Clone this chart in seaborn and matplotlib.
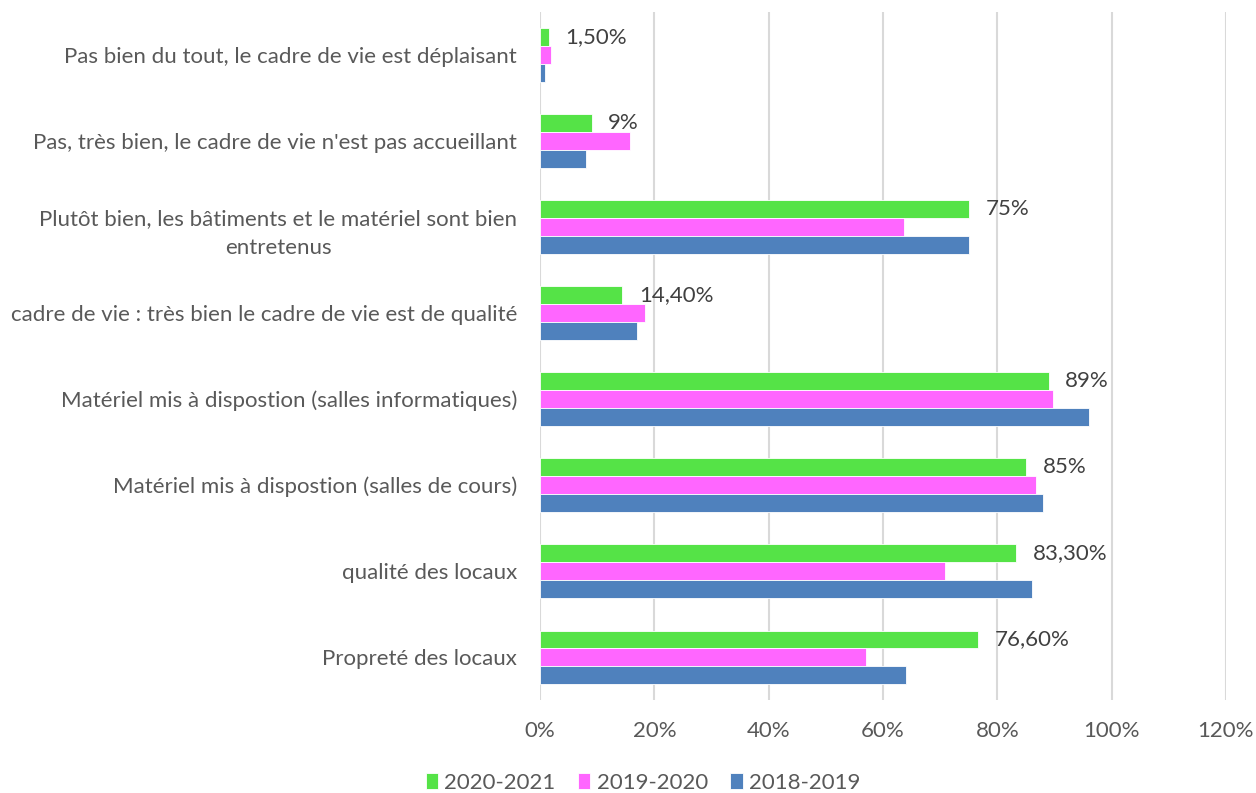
import pandas as pd
import matplotlib.pyplot as plt
import seaborn as sns
from matplotlib.ticker import FuncFormatter

# Data (percent)
categories = [
    "Pas bien du tout, le cadre de vie est déplaisant",
    "Pas, très bien, le cadre de vie n'est pas accueillant",
    "Plutôt bien, les bâtiments et le matériel sont bien\nentretenus",
    "cadre de vie : très bien le cadre de vie est de qualité",
    "Matériel mis à dispostion (salles informatiques)",
    "Matériel mis à dispostion (salles de cours)",
    "qualité des locaux",
    "Propreté des locaux",
]
years = ["2020-2021", "2019-2020", "2018-2019"]
values_2020_2021 = [1.5, 9, 75, 14.4, 89, 85, 83.3, 76.6]
values_2019_2020 = [1.9, 15.7, 63.7, 18.4, 89.7, 86.8, 70.9, 57]
values_2018_2019 = [0.9, 8, 75, 17, 96, 88, 86, 64]
green_labels = ["1,50%", "9%", "75%", "14,40%", "89%", "85%", "83,30%", "76,60%"]

colors = ["#55E347", "#FF66FF", "#4F81BD"]
text_color = "#595959"

df = pd.DataFrame({
    "categorie": categories * 3,
    "annee": [y for y in years for _ in categories],
    "valeur": values_2020_2021 + values_2019_2020 + values_2018_2019,
})

sns.set_style("white")
plt.rcParams["font.family"] = ["Lato", "DejaVu Sans"]

fig = plt.figure(figsize=(12.56, 7.93), dpi=100)
ax = fig.add_axes([0.43, 0.117, 0.546, 0.868])

sns.barplot(data=df, y="categorie", x="valeur", hue="annee", hue_order=years,
            order=categories, palette=colors, orient="h", width=0.62,
            edgecolor="white", linewidth=0.6, saturation=1, ax=ax)

ax.bar_label(ax.containers[0], labels=green_labels, padding=12,
             fontsize=16, color="#404040")

ax.set_xlim(0, 120)
ax.set_xticks(range(0, 121, 20))
ax.xaxis.set_major_formatter(FuncFormatter(lambda v, _: f"{int(v)}%"))
ax.grid(axis="x", color="#D9D9D9", linewidth=1.5)
ax.set_axisbelow(True)
for s in ax.spines.values():
    s.set_visible(False)
ax.set_xlabel("")
ax.set_ylabel("")
ax.tick_params(axis="both", length=0, labelsize=16, labelcolor=text_color)
ax.tick_params(axis="x", pad=15)
ax.tick_params(axis="y", pad=16.5)
for lbl in ax.get_yticklabels():
    lbl.set_multialignment("center")
    lbl.set_linespacing(1.55)

handles, labels = ax.get_legend_handles_labels()
ax.legend(handles, labels, loc="center", bbox_to_anchor=(0.512, 0.0125),
          bbox_transform=fig.transFigure, ncol=3, frameon=False, fontsize=16,
          handlelength=0.55, handleheight=0.75, handletextpad=0.3, columnspacing=1.0,
          labelcolor=text_color)

plt.savefig("out.png", dpi=100)
